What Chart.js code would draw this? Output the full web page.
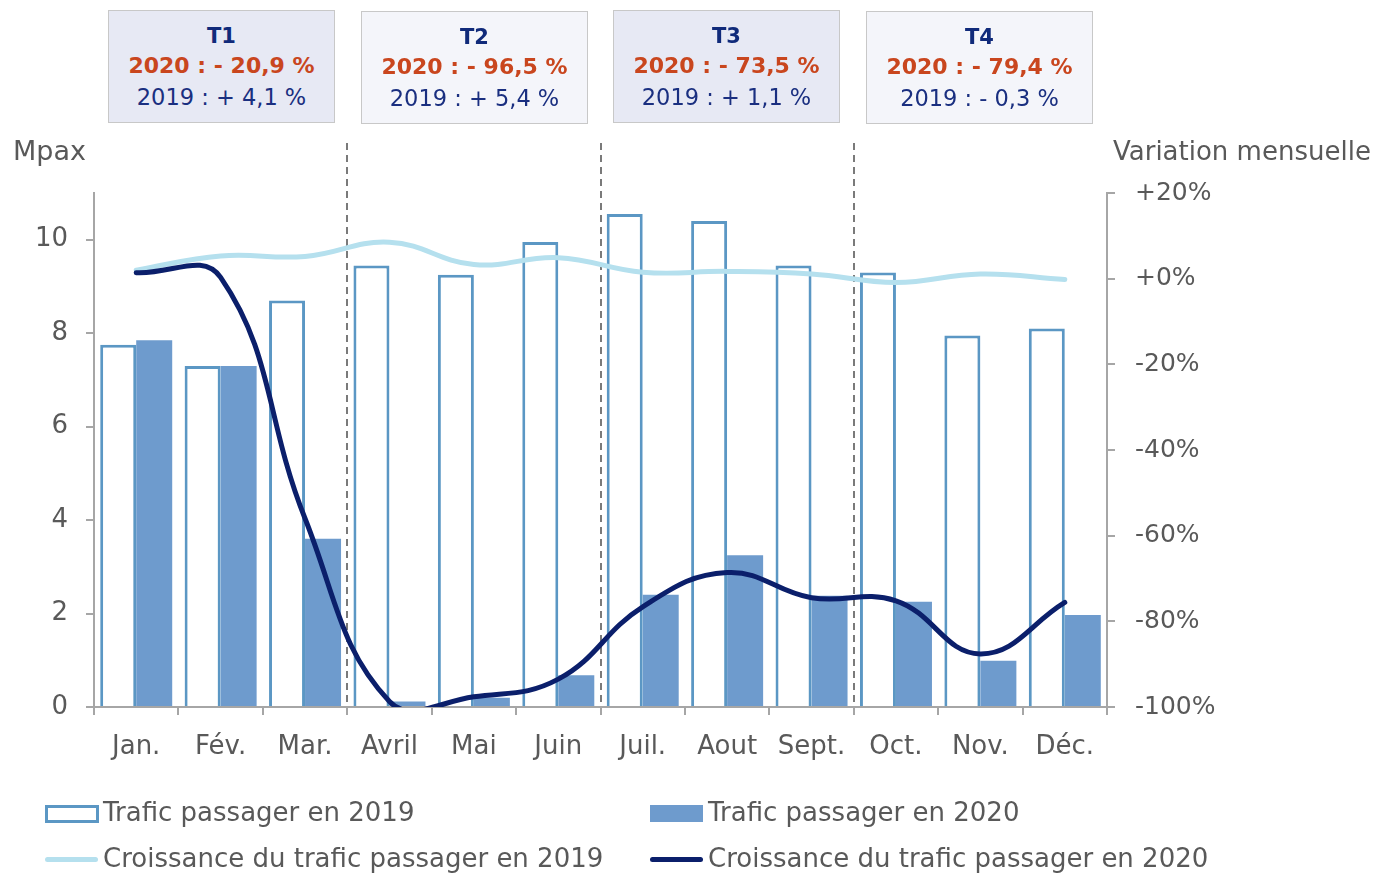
<!DOCTYPE html>
<html>
<head>
<meta charset="utf-8">
<script src="https://cdn.jsdelivr.net/npm/chart.js@4.4.1/dist/chart.umd.min.js"></script>
<style>
  body { margin:0; background:#fff; font-family:"DejaVu Sans", sans-serif; color:#595959; }
  #wrap { position:relative; width:1374px; height:873px; overflow:hidden; }
  #c { position:absolute; left:0; top:0; }
  .box { position:absolute; width:225px; height:111px; border:1px solid #c8c8c8; text-align:center; box-sizing:content-box; }
  .box .t { font-weight:bold; font-size:21px; color:#102a7a; margin-top:12px; line-height:26px; }
  .box .a { font-weight:bold; font-size:22px; color:#c9461e; line-height:33px; }
  .box .b { font-size:22.5px; color:#1a2f80; line-height:31px; }
  .lab { position:absolute; font-size:26px; line-height:30px; white-space:nowrap; }
  .leg { position:absolute; font-size:26px; line-height:30px; white-space:nowrap; }
  .sw { position:absolute; }
</style>
</head>
<body>
<div id="wrap">
<canvas id="c" width="1374" height="873"></canvas>
<div class="lab" style="left:13px;top:136px;font-size:27px">Mpax</div>
<div class="lab" style="left:1113px;top:136px">Variation mensuelle</div>
<div id="boxes"></div>
<div id="legend"></div>
</div>
<script>
var months = ['Jan.', 'Fév.', 'Mar.', 'Avril', 'Mai', 'Juin', 'Juil.', 'Aout', 'Sept.', 'Oct.', 'Nov.', 'Déc.'];
var trafic2019 = [7.75, 7.3, 8.7, 9.45, 9.25, 9.95, 10.55, 10.4, 9.45, 9.3, 7.95, 8.1];
var trafic2020 = [7.85, 7.3, 3.6, 0.12, 0.2, 0.68, 2.4, 3.25, 2.38, 2.25, 0.99, 1.97];
var croissance2019 = [2.0, 5.3, 5.2, 8.5, 3.3, 4.9, 1.5, 1.7, 1.1, -0.9, 1.1, -0.2];
var croissance2020 = [1.4, 0.3, -56, -98.7, -97.6, -93.5, -76.6, -68.6, -74.5, -75.2, -87.6, -75.6];
var quarters = ['T1', 'T2', 'T3', 'T4'];
var quarter2020 = ['2020 : - 20,9 %', '2020 : - 96,5 %', '2020 : - 73,5 %', '2020 : - 79,4 %'];
var quarter2019 = ['2019 : + 4,1 %', '2019 : + 5,4 %', '2019 : + 1,1 %', '2019 : - 0,3 %'];
var quarterBreaks = [3, 6, 9];

var grey = '#595959';
var axisCol = '#a6a6a6';

// encarts trimestriels
var boxLeft = [108, 361, 613, 866];
var boxTop = [10, 11, 10, 11];
var boxBg = ['#e7e9f4', '#f4f5fa', '#e7e9f4', '#f4f5fa'];
var html = '';
for (var i = 0; i < quarters.length; i++) {
  html += '<div class="box" style="left:' + boxLeft[i] + 'px;top:' + boxTop[i] + 'px;background:' + boxBg[i] + '">' +
    '<div class="t">' + quarters[i] + '</div><div class="a">' + quarter2020[i] + '</div><div class="b">' + quarter2019[i] + '</div></div>';
}
document.getElementById('boxes').innerHTML = html;

var dashPlugin = {
  id: 'quarterLines',
  beforeDatasetsDraw: function(chart) {
    var ctx = chart.ctx, x = chart.scales.x, bottom = chart.chartArea.bottom;
    ctx.save();
    ctx.strokeStyle = '#7a7a7a';
    ctx.lineWidth = 2;
    ctx.setLineDash([7, 5]);
    quarterBreaks.forEach(function(b) {
      var px = Math.round((x.getPixelForValue(b - 1) + x.getPixelForValue(b)) / 2);
      ctx.beginPath();
      ctx.moveTo(px, 143);
      ctx.lineTo(px, bottom);
      ctx.stroke();
    });
    ctx.restore();
  }
};

var chart = new Chart(document.getElementById('c'), {
  type: 'bar',
  data: {
    labels: months,
    datasets: [
      {
        type: 'line', label: 'Croissance du trafic passager en 2020', data: croissance2020, yAxisID: 'y1',
        borderColor: '#0b1f6b', borderWidth: 5, pointRadius: 0, tension: 0.42, capBezierPoints: false,
        borderCapStyle: 'round', order: 0
      },
      {
        type: 'line', label: 'Croissance du trafic passager en 2019', data: croissance2019, yAxisID: 'y1',
        borderColor: '#b5e0ee', borderWidth: 5, pointRadius: 0, tension: 0.42, capBezierPoints: false,
        borderCapStyle: 'round', order: 1
      },
      {
        label: 'Trafic passager en 2019', data: trafic2019, yAxisID: 'y',
        backgroundColor: '#ffffff', borderColor: '#5b97c4', borderWidth: 3, borderSkipped: 'bottom',
        categoryPercentage: 0.853, barPercentage: 1, order: 2
      },
      {
        label: 'Trafic passager en 2020', data: trafic2020, yAxisID: 'y',
        backgroundColor: '#6e9bcd', borderWidth: 0,
        categoryPercentage: 0.853, barPercentage: 1, order: 2
      }
    ]
  },
  options: {
    responsive: false,
    devicePixelRatio: 1,
    animation: false,
    layout: { padding: { top: 193, left: 0, right: 0, bottom: 0 } },
    plugins: { legend: { display: false }, tooltip: { enabled: false } },
    scales: {
      x: {
        offset: true,
        grid: { drawOnChartArea: false, tickLength: 8, color: axisCol, lineWidth: 2 },
        border: { color: axisCol, width: 2 },
        ticks: { color: grey, font: { family: 'DejaVu Sans', size: 26 }, padding: 17, maxRotation: 0 },
        afterFit: function(s) { s.height = 166; }
      },
      y: {
        position: 'left', min: 0, max: 11,
        grid: { drawOnChartArea: false, tickLength: 8, color: axisCol, lineWidth: 2 },
        border: { color: axisCol, width: 2 },
        ticks: { stepSize: 2, color: grey, font: { family: 'DejaVu Sans', size: 26 }, padding: 18 },
        afterBuildTicks: function(s) { s.ticks = s.ticks.filter(function(t) { return t.value <= 10; }); },
        afterFit: function(s) { s.width = 94; }
      },
      y1: {
        position: 'right', min: -100, max: 20,
        grid: { drawOnChartArea: false, tickLength: 8, color: axisCol, lineWidth: 2 },
        border: { color: axisCol, width: 2 },
        ticks: {
          stepSize: 20, color: grey, font: { family: 'DejaVu Sans', size: 25 }, padding: 20,
          callback: function(v) { return (v >= 0 ? '+' : '') + v + '%'; }
        },
        afterFit: function(s) { s.width = 267; }
      }
    }
  },
  plugins: [dashPlugin]
});

// légende
var legItems = [
  { ds: 2, left: 45, top: 797, kind: 'outline' },
  { ds: 3, left: 650, top: 797, kind: 'fill' },
  { ds: 1, left: 45, top: 843, kind: 'line' },
  { ds: 0, left: 650, top: 843, kind: 'line' }
];
var lh = '';
legItems.forEach(function(it) {
  var d = chart.data.datasets[it.ds];
  var sw;
  if (it.kind === 'outline') sw = '<div class="sw" style="left:' + it.left + 'px;top:' + (it.top + 8) + 'px;width:48px;height:12px;border:3px solid ' + d.borderColor + ';background:#fff"></div>';
  else if (it.kind === 'fill') sw = '<div class="sw" style="left:' + it.left + 'px;top:' + (it.top + 8) + 'px;width:53px;height:17px;background:' + d.backgroundColor + '"></div>';
  else sw = '<div class="sw" style="left:' + it.left + 'px;top:' + (it.top + 14) + 'px;width:53px;height:5px;border-radius:3px;background:' + d.borderColor + '"></div>';
  lh += sw + '<div class="leg" style="left:' + (it.left + 58) + 'px;top:' + it.top + 'px">' + d.label + '</div>';
});
document.getElementById('legend').innerHTML = lh;
</script>
</body>
</html>
